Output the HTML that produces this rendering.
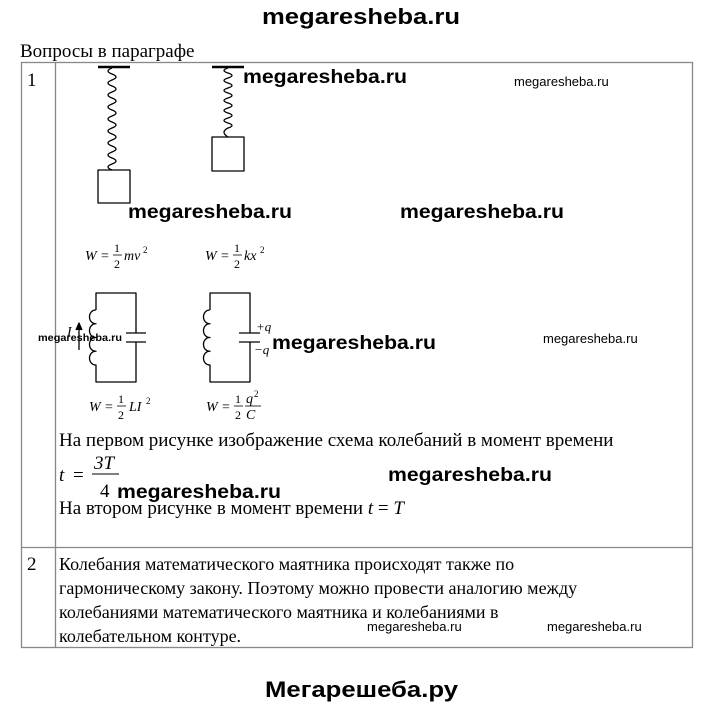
<!DOCTYPE html>
<html><head><meta charset="utf-8"><style>
body{margin:0;background:#fff;width:720px;height:706px;overflow:hidden;}
svg{display:block}
.s{font-family:"Liberation Serif",serif;}
.w{font-family:"Liberation Sans",sans-serif;font-weight:bold;}
.m{font-family:"Liberation Sans",sans-serif;}
</style></head><body>
<svg width="720" height="706" viewBox="0 0 720 706" xmlns="http://www.w3.org/2000/svg">
<text x="262" y="24" class="w" font-size="22" textLength="198" lengthAdjust="spacingAndGlyphs">megaresheba.ru</text>
<text x="20" y="57" class="s" font-size="19">Вопросы в параграфе</text>
<g stroke="#888" stroke-width="1.3" fill="none">
<rect x="21.5" y="62.5" width="671" height="585"/>
<line x1="55.5" y1="62" x2="55.5" y2="648"/>
<line x1="21" y1="547.5" x2="693" y2="547.5"/>
</g>
<text x="27" y="86" class="s" font-size="19">1</text>
<text x="27" y="570" class="s" font-size="19">2</text>
<g stroke="#000" fill="none" stroke-width="1.3" stroke-linejoin="round">
<line x1="98" y1="67" x2="130" y2="67" stroke-width="2.5"/>
<path d="M112,68 Q104,71 112,74 Q120,77 112,80 Q104,83 112,86 Q120,89 112,92 Q104,95 112,98 Q120,101 112,104 Q104,107 112,110 Q120,113 112,116 Q104,119 112,122 Q120,125 112,128 Q104,131 112,134 Q120,137 112,140 Q104,143 112,146 Q120,149 112,152 Q104,155 112,158 Q120,161 112,164 Q104,167 112,170"/>
<rect x="98" y="170" width="32" height="33"/>
<line x1="212" y1="67" x2="244" y2="67" stroke-width="2.5"/>
<path d="M228,68 Q220,70.5 228,73 Q236,75.5 228,78 Q220,80.5 228,83 Q236,85.5 228,88 Q220,90.5 228,93 Q236,95.5 228,98 Q220,100.5 228,103 Q236,105.5 228,108 Q220,110.5 228,113 Q236,115.5 228,118 Q220,120.5 228,123 Q236,125.5 228,128 Q220,132 228,137"/>
<rect x="212" y="137" width="32" height="34"/>
<path d="M96,310 V293 H136 V333 M126,333 H146 M126,342 H146 M136,342 V382 H96 V365 a6,6.9 0 1 1 0,-13.75 a6,6.9 0 1 1 0,-13.75 a6,6.9 0 1 1 0,-13.75 a6,6.9 0 1 1 0,-13.75"/>
<line x1="79" y1="350" x2="79" y2="326"/>
<path d="M76,330 L79,323 L82,330" fill="#000"/>
<path d="M210,310 V293 H250 V333 M239,333 H260 M239,342 H260 M250,342 V382 H210 V365 a6,6.9 0 1 1 0,-13.75 a6,6.9 0 1 1 0,-13.75 a6,6.9 0 1 1 0,-13.75 a6,6.9 0 1 1 0,-13.75"/>
</g>
<g class="s" font-size="14" font-style="italic">
<text x="85" y="260">W</text><text x="101" y="260" font-style="normal">=</text>
<text x="114" y="252" font-style="normal" font-size="12">1</text><line x1="113" y1="255" x2="122" y2="255" stroke="#000" stroke-width="0.8"/><text x="114" y="268" font-style="normal" font-size="12">2</text>
<text x="124" y="260">mv</text><text x="143" y="253" font-size="9" font-style="normal">2</text>
<text x="205" y="260">W</text><text x="221" y="260" font-style="normal">=</text>
<text x="234" y="252" font-style="normal" font-size="12">1</text><line x1="233" y1="255" x2="242" y2="255" stroke="#000" stroke-width="0.8"/><text x="234" y="268" font-style="normal" font-size="12">2</text>
<text x="244" y="260">kx</text><text x="260" y="253" font-size="9" font-style="normal">2</text>
<text x="67" y="336">I</text>
<text x="256" y="331" font-size="13">+q</text>
<text x="254" y="354" font-size="13">−q</text>
<text x="89" y="411">W</text><text x="105" y="411" font-style="normal">=</text>
<text x="118" y="403" font-style="normal" font-size="12">1</text><line x1="117" y1="406" x2="126" y2="406" stroke="#000" stroke-width="0.8"/><text x="118" y="419" font-style="normal" font-size="12">2</text>
<text x="129" y="411">LI</text><text x="146" y="404" font-size="9" font-style="normal">2</text>
<text x="206" y="411">W</text><text x="222" y="411" font-style="normal">=</text>
<text x="235" y="403" font-style="normal" font-size="12">1</text><line x1="234" y1="406" x2="243" y2="406" stroke="#000" stroke-width="0.8"/><text x="235" y="419" font-style="normal" font-size="12">2</text>
<text x="246" y="403">q</text><text x="254" y="397" font-size="9" font-style="normal">2</text><line x1="245" y1="406" x2="261" y2="406" stroke="#000" stroke-width="0.8"/><text x="246" y="419">C</text>
</g>
<g class="s" font-size="19">
<text x="59" y="446">На первом рисунке изображение схема колебаний в момент времени</text>
<text x="59" y="481" font-style="italic">t</text><text x="73" y="481">=</text>
<text x="94" y="469" font-style="italic">3T</text><line x1="92" y1="474" x2="119" y2="474" stroke="#000" stroke-width="1"/><text x="100" y="497">4</text>
<text x="59" y="514">На втором рисунке в момент времени <tspan font-style="italic">t</tspan> = <tspan font-style="italic">T</tspan></text>
</g>
<g class="s" font-size="18">
<text x="59" y="570">Колебания математического маятника происходят также по</text>
<text x="59" y="594">гармоническому закону. Поэтому можно провести аналогию между</text>
<text x="59" y="618">колебаниями математического маятника и колебаниями в</text>
<text x="59" y="642">колебательном контуре.</text>
</g>
<g class="w" font-size="19">
<text x="243" y="83" textLength="164" lengthAdjust="spacingAndGlyphs">megaresheba.ru</text>
<text x="128" y="218" textLength="164" lengthAdjust="spacingAndGlyphs">megaresheba.ru</text>
<text x="400" y="218" textLength="164" lengthAdjust="spacingAndGlyphs">megaresheba.ru</text>
<text x="272" y="349" textLength="164" lengthAdjust="spacingAndGlyphs">megaresheba.ru</text>
<text x="388" y="481" textLength="164" lengthAdjust="spacingAndGlyphs">megaresheba.ru</text>
<text x="117" y="498" textLength="164" lengthAdjust="spacingAndGlyphs">megaresheba.ru</text>
</g>
<text x="38" y="341" class="w" font-size="10" textLength="84" lengthAdjust="spacingAndGlyphs">megaresheba.ru</text>
<g class="m" font-size="13">
<text x="514" y="86">megaresheba.ru</text>
<text x="543" y="343">megaresheba.ru</text>
<text x="367" y="631">megaresheba.ru</text>
<text x="547" y="631">megaresheba.ru</text>
</g>
<text x="265" y="697" class="w" font-size="22" textLength="193" lengthAdjust="spacingAndGlyphs">Мегарешеба.ру</text>
</svg>
</body></html>
